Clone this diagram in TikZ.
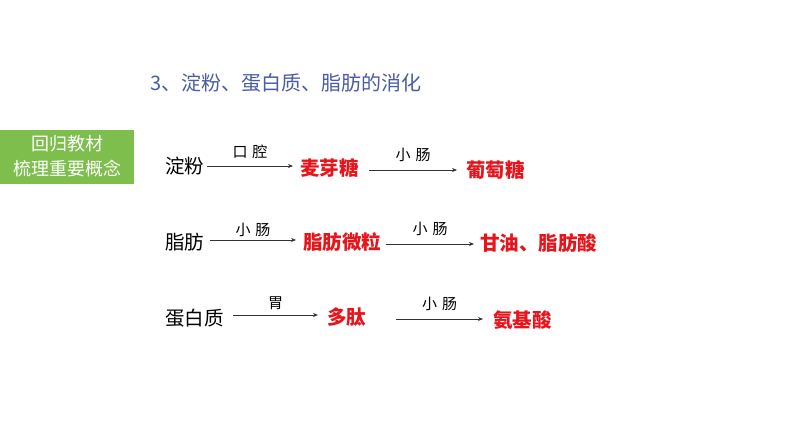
\documentclass[tikz,border=0pt]{standalone}
\usepackage{fontspec}
\newfontfamily\cjk{Noto Sans CJK SC}
\usetikzlibrary{arrows.meta}
\definecolor{boxgreen}{HTML}{7DBE4C}
\definecolor{titleblue}{HTML}{4A5CA6}
\definecolor{hired}{HTML}{E8141B}
\definecolor{arrowgray}{HTML}{333333}
\tikzset{
  src/.style={inner sep=0pt, font=\cjk\fontsize{19.5}{22}\selectfont, text=black},
  prod/.style={inner sep=0pt, font=\cjk\bfseries\fontsize{19.5}{22}\selectfont, text=hired},
  lab/.style={inner sep=0pt, font=\cjk\fontsize{15}{17}\selectfont, text=black},
  conv/.style={draw=arrowgray, line width=0.8pt, -{Stealth[length=5pt,width=4pt]}}
}
\begin{document}
\begin{tikzpicture}[x=1pt,y=-1pt]
\useasboundingbox (0,0) rectangle (794,447);
\fill[white] (0,0) rectangle (794,447);
% green box
\fill[boxgreen] (0,130) rectangle (134,184);
\node[inner sep=0pt, text=white, font=\cjk\fontsize{18}{20}\selectfont] (g1) at (67,144) {回归教材};
\node[inner sep=0pt, text=white, font=\cjk\fontsize{18}{20}\selectfont] (g2) at (67,169) {梳理重要概念};
% title
\node[inner sep=0pt, anchor=west, text=titleblue, font=\cjk\fontsize{20}{22}\selectfont] (title) at (150,83) {3、淀粉、蛋白质、脂肪的消化};
% row 1
\node[src, anchor=west] (a1) at (165,166) {淀粉};
\node[prod, anchor=west] (b1) at (300,168) {麦芽糖};
\node[prod, anchor=west] (c1) at (466,170) {葡萄糖};
\coordinate (a1e) at (207,166);
\coordinate (b1s) at (293,166);
\coordinate (b1e) at (369,170);
\coordinate (c1s) at (457,170);
\draw[conv] (a1e) -- (b1s) node[lab, midway, above=7pt] (l1) {口\,\,腔};
\draw[conv] (b1e) -- (c1s) node[lab, midway, above=8pt] (l2) {小\,\,肠};
% row 2
\node[src, anchor=west] (a2) at (165,242) {脂肪};
\node[prod, anchor=west] (b2) at (303,242) {脂肪微粒};
\node[prod, anchor=west] (c2) at (480,243) {甘油、脂肪酸};
\coordinate (a2e) at (210,240);
\coordinate (b2s) at (296,240);
\coordinate (b2e) at (386,244);
\coordinate (c2s) at (474,244);
\draw[conv] (a2e) -- (b2s) node[lab, midway, above=3pt] (l3) {小\,\,肠};
\draw[conv] (b2e) -- (c2s) node[lab, midway, above=8pt] (l4) {小\,\,肠};
% row 3
\node[src, anchor=west] (a3) at (165,318) {蛋白质};
\node[prod, anchor=west] (b3) at (327,317) {多肽};
\node[prod, anchor=west] (c3) at (493,320) {氨基酸};
\coordinate (a3e) at (233,315);
\coordinate (b3s) at (318,315);
\coordinate (b3e) at (396,319);
\coordinate (c3s) at (483,319);
\draw[conv] (a3e) -- (b3s) node[lab, midway, above=5pt] (l5) {胃};
\draw[conv] (b3e) -- (c3s) node[lab, midway, above=8pt] (l6) {小\,\,肠};
\end{tikzpicture}
\end{document}
